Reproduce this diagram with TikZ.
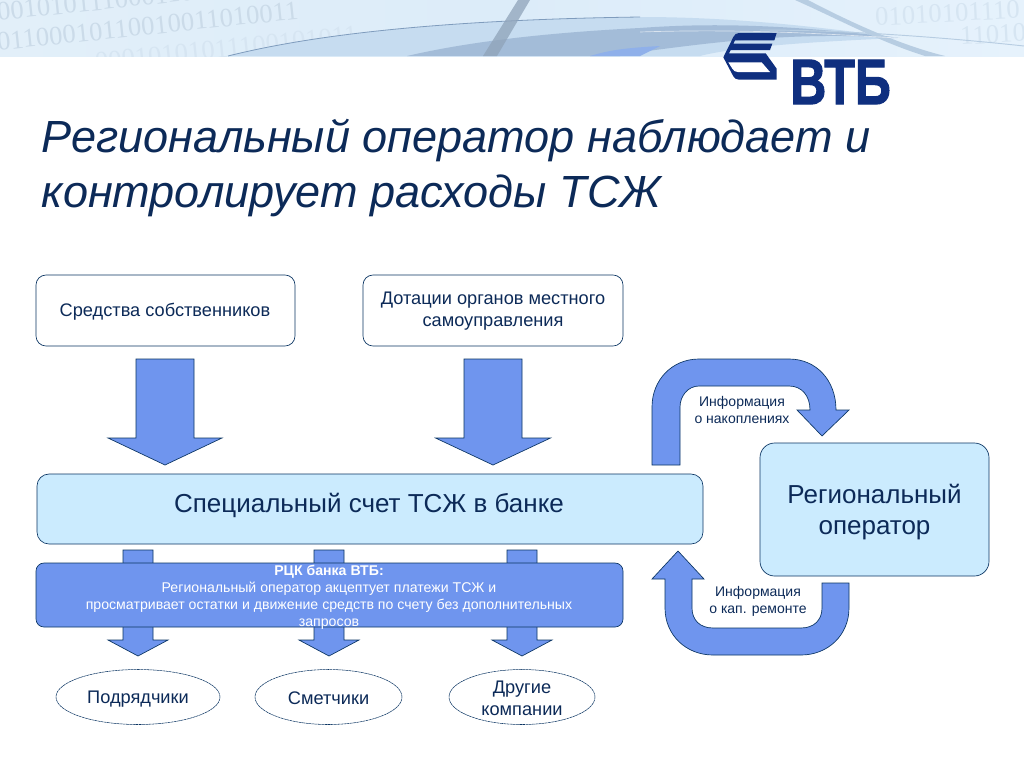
\documentclass[tikz,border=0pt]{standalone}
\usepackage{fontspec}
\setmainfont{Liberation Sans}
\newfontface\logofont{Liberation Sans Bold}[FakeBold=2]
\usetikzlibrary{shapes.geometric}
\definecolor{navy}{HTML}{0C2A58}
\definecolor{edge}{HTML}{0B3563}
\definecolor{arrowblue}{HTML}{6F95EE}
\definecolor{paleblue}{HTML}{CBEBFE}
\definecolor{logoblue}{HTML}{0F2F7F}
\definecolor{digit}{HTML}{CBDBE9}
\definecolor{digitB}{HTML}{D6E5F2}
\definecolor{bannerA}{HTML}{E2EFF9}
\definecolor{bannerB}{HTML}{DCECF9}
\definecolor{bannerC}{HTML}{E6F2FC}
\definecolor{swoA}{HTML}{C6DCF0}
\definecolor{swoB}{HTML}{A3BCD8}
\definecolor{swoC}{HTML}{8FA3B9}
\definecolor{swoD}{HTML}{B7CDE2}
\definecolor{swoE}{HTML}{8FB0EA}
\definecolor{swoL}{HTML}{7F9CBD}
\newcommand\pxu[1]{#1*0.75pt}
\newcommand\fs[2]{\fontsize{#1}{#2}\selectfont}
\tikzset{
  x=0.75pt,y=-0.75pt,
  whitebox/.style={draw=edge,line width=0.5pt,fill=white,rounded corners=7.5pt},
  palebox/.style={draw=edge,line width=0.5pt,fill=paleblue,rounded corners=9pt},
  rckbox/.style={draw=edge,line width=0.5pt,fill=arrowblue,rounded corners=6pt},
  firm/.style={draw=edge,line width=0.4pt,dash pattern=on 2pt off 0.4pt,ellipse,fill=white,inner sep=0pt},
  blockarrow/.style={draw=edge,line width=0.5pt,fill=arrowblue},
  boxtext/.style={inner sep=0pt,align=center,text=navy,font=\fs{13.65}{16.6}},
  bigtext/.style={inner sep=0pt,align=center,text=navy,font=\fs{19.5}{23.5}},
  caption/.style={align=center,text=navy,font=\fs{10.5}{12.75},inner sep=0pt},
  titletext/.style={inner sep=0pt,anchor=base west,text=navy,font=\itshape\fs{33.8}{41}},
  digits/.style={text=digit,font=\fontspec{Liberation Serif}\fs{20}{20},anchor=west,inner sep=0pt},
}
\newcommand\dnarrow[6]{% cx, half shaft, half head, ytop, ybase, ytip
  \draw[blockarrow] (#1-#2,#4) -- (#1+#2,#4) -- (#1+#2,#5) -- (#1+#3,#5) -- (#1,#6) -- (#1-#3,#5) -- (#1-#2,#5) -- cycle;}
\begin{document}
\begin{tikzpicture}
\useasboundingbox (0,0) rectangle (1024,768);
\fill[white] (0,0) rectangle (1024,768);
% banner
\begin{scope}
\clip (0,0) rectangle (1024,56);
\shade[left color=bannerA,right color=bannerC,middle color=bannerB] (0,0) rectangle (1024,56);
\node[digits,rotate=6] (d1) at (-3,12) {0010101110001101};
\node[digits,rotate=6] (d2) at (-3,42) {01100010110010011010011};
\node[digits,rotate=6,text=digitB] (d3) at (95,62) {00010101011100101011};
\node[digits,rotate=3,text=digitB] (d4) at (875,17) {01010101110};
\node[digits,rotate=3,text=digitB] (d5) at (960,36) {11010};
% light sweep with its dark upper edge
\fill[swoA] (228,56) .. controls (300,38) and (420,20) .. (640,17) .. controls (720,17) and (800,24) .. (900,38) .. controls (800,42) and (730,48) .. (700,56) -- cycle;
\draw[swoL,line width=.6pt] (228,56) .. controls (300,38) and (420,20) .. (640,17);
% grey band
\fill[swoB] (407,56) .. controls (450,46) and (520,34) .. (640,28) .. controls (720,22) and (800,26) .. (900,38) .. controls (800,32) and (730,40) .. (640,52) -- (620,56) -- cycle;
\fill[swoE] (590,56) .. controls (610,50) and (625,48) .. (660,46) -- (640,56) -- cycle;
\fill[swoC,opacity=.75] (518,0) -- (530,0) -- (497,56) -- (483,56) -- cycle;
\fill[swoD] (795,0) -- (808,0) .. controls (850,22) and (900,45) .. (945,56) -- (925,56) .. controls (880,42) and (840,20) .. (795,0) -- cycle;
\draw[white,opacity=.6,line width=.5pt] (640,32) .. controls (760,28) and (850,36) .. (900,38);
\draw[swoD,line width=.7pt] (760,30) .. controls (850,30) and (950,38) .. (1024,46);
\end{scope}
% logo
\begin{scope}[shift={(715,28)},x=0.25pt,y=-0.25pt]
\fill[logoblue] (185,15) -- (72,15) .. controls (64,15) and (59,19) .. (55,27) -- (25,88) -- (55,145) .. controls (59,151) and (64,155) .. (72,155) -- (185,155) -- (185,122) -- (152,76) -- (42,76) -- (47,66) -- (165,66) -- (172,47) -- (55,47) -- (60,37) -- (178,37) -- cycle;
\fill[white] (40,103) -- (140,103) -- (165,132) -- (68,132) .. controls (60,132) and (56,128) .. (52,122) -- cycle;
\end{scope}
\node[inner sep=0pt,anchor=base west,text=logoblue,font=\logofont\fs{48}{48}] (logotext) at (790,104) {\scalebox{0.78}[1]{ВТБ}};
% title
\node[titletext] (title1) at (41.5,152) {Региональный оператор наблюдает и};
\node[titletext] (title2) at (41.5,207) {контролирует расходы ТСЖ};
% top boxes
\node[whitebox,minimum width=\pxu{259},minimum height=\pxu{71}] (own) at (165.5,310.5) {};
\node[boxtext] (ownt) at (165,312) {Средства собственников};
\node[whitebox,minimum width=\pxu{260},minimum height=\pxu{71}] (sub) at (493,310.5) {};
\node[boxtext] (subt) at (493,311.5) {Дотации органов местного\\самоуправления};
% big arrows
\dnarrow{165}{29}{57}{359}{438}{465}
\dnarrow{493}{29}{57.5}{359}{438}{465}
% arrows running behind the RCK box
\dnarrow{138}{15}{30}{550}{640}{656}
\dnarrow{329}{15}{30}{550}{640}{656}
\dnarrow{522}{15}{30}{550}{640}{656}
% bank
\node[palebox,minimum width=\pxu{666},minimum height=\pxu{70}] (bank) at (370,509) {};
\node[bigtext] (banktext) at (369,505) {Специальный счет ТСЖ в банке};
% RCK
\node[rckbox,minimum width=\pxu{587},minimum height=\pxu{64}] (rck) at (329.5,595) {};
\node[inner sep=0pt,align=center,text=white,font=\fs{10.6}{12.75},anchor=north] (rcktext) at (329,564.5) {\textbf{РЦК банка ВТБ:}\\Региональный оператор акцептует платежи ТСЖ и\\просматривает остатки и движение средств по счету без дополнительных\\запросов};
% firms
\node[firm,minimum width=\pxu{164},minimum height=\pxu{55}] (f1) at (138,697) {};
\node[boxtext] (f1t) at (138,699) {Подрядчики};
\node[firm,minimum width=\pxu{147},minimum height=\pxu{55}] (f2) at (328.5,697) {};
\node[boxtext] (f2t) at (328.5,698.5) {Сметчики};
\node[firm,minimum width=\pxu{146},minimum height=\pxu{55}] (f3) at (522,697) {};
\node[boxtext] (f3t) at (522,698) {Другие\\компании};
% operator
\node[palebox,rounded corners=11pt,minimum width=\pxu{229},minimum height=\pxu{133}] (oper) at (874.5,509.5) {};
\node[bigtext] (opert) at (874.5,512) {Региональный\\оператор};
% curved arrows
\draw[blockarrow] (652,465) -- (652,407) .. controls (652,380) and (672,359) .. (699,359) -- (789,359) .. controls (816,359) and (836,380) .. (836,410) -- (849,410) -- (822,436) -- (797,410) -- (810,410) .. controls (810,396) and (802,386) .. (789,386) -- (699,386) .. controls (688,386) and (680,396) .. (680,407) -- (680,465) -- cycle;
\node[caption] (c1) at (742,410) {Информация\\о накоплениях};
\draw[blockarrow] (849,583) -- (849,608) .. controls (849,635) and (828,655) .. (801,655) -- (713,655) .. controls (686,655) and (665,635) .. (665,608) -- (665,579) -- (652,579) -- (678,551) -- (704,579) -- (692,579) -- (692,608) .. controls (692,620) and (700,628) .. (713,628) -- (801,628) .. controls (814,628) and (822,620) .. (822,608) -- (822,583) -- cycle;
\node[caption] (c2) at (758,601.5) {Информация\\о кап. ремонте};
\end{tikzpicture}
\end{document}
